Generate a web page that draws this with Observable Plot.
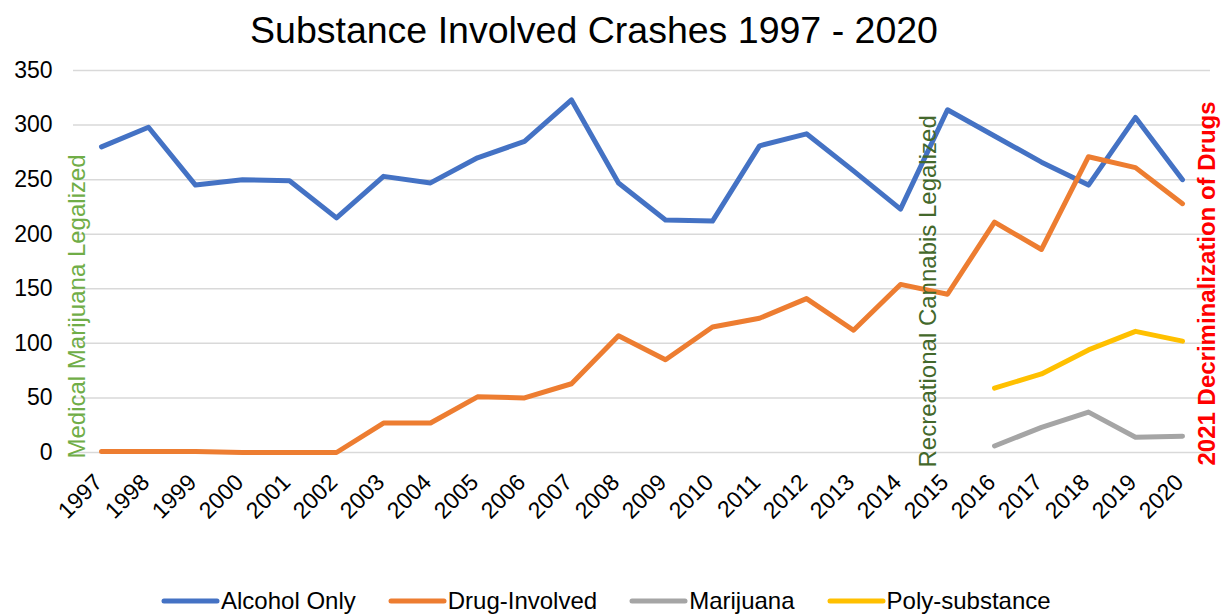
<!DOCTYPE html>
<html>
<head>
<meta charset="utf-8">
<script src="https://cdn.jsdelivr.net/npm/d3@7"></script>
<script src="https://cdn.jsdelivr.net/npm/@observablehq/plot@0.6"></script>
<style>
  html, body { margin: 0; padding: 0; background: #fff; }
  body { width: 1228px; height: 616px; position: relative; overflow: hidden; font-family: "Liberation Sans", Arial, sans-serif; }
  #title { position: absolute; left: 0; top: 7px; width: 1188px; text-align: center; font-size: 37.5px; color: #000; line-height: 46px; }
  #chart { position: absolute; left: 0; top: 50px; }
  #legend { position: absolute; left: 161px; top: 586px; display: flex; justify-content: flex-start; gap: 32px; font-size: 24px; color: #000; line-height: 30px; }
  .item { display: flex; align-items: center; gap: 1px; }
</style>
</head>
<body>
<div id="title">Substance Involved Crashes 1997 - 2020</div>
<div id="chart"></div>
<div id="legend"></div>
<script>
const years = ["1997","1998","1999","2000","2001","2002","2003","2004","2005","2006","2007","2008","2009","2010","2011","2012","2013","2014","2015","2016","2017","2018","2019","2020"];
const alcoholOnly = [280, 298, 245, 250, 249, 215, 253, 247, 270, 285, 323, 247, 213, 212, 281, 292, 258, 223, 314, 290, 266, 245, 307, 250];
const drugInvolved = [1, 1, 1, 0, 0, 0, 27, 27, 51, 50, 63, 107, 85, 115, 123, 141, 112, 154, 145, 211, 186, 271, 261, 228];
const recentYears = ["2016","2017","2018","2019","2020"];
const marijuana = [6, 23, 37, 14, 15];
const polySubstance = [59, 72, 94, 111, 102];
const yTicks = [0, 50, 100, 150, 200, 250, 300, 350];

const seriesNames = ["Alcohol Only", "Drug-Involved", "Marijuana", "Poly-substance"];
const seriesColors = ["#4472C4", "#ED7D31", "#A5A5A5", "#FFC000"];

const annotations = [
  {text: "Medical Marijuana Legalized", year: "1997", color: "#70AD47", weight: "normal", dx: -24.5, dy: 6},
  {text: "Recreational Cannabis Legalized", year: "2015", color: "#43682B", weight: "normal", dx: -19.5, dy: 15},
  {text: "2021 Decriminalization of Drugs", year: "2020", color: "#FF0000", weight: "bold", dx: 24.5, dy: 13}
];

const toRows = (xs, vs) => xs.map((x, i) => ({year: x, value: vs[i]}));
const rows = [
  toRows(years, alcoholOnly),
  toRows(years, drugInvolved),
  toRows(recentYears, marijuana),
  toRows(recentYears, polySubstance)
];

const chart = Plot.plot({
  width: 1228,
  height: 482,
  marginTop: 20,
  marginLeft: 73,
  marginRight: 18,
  marginBottom: 80,
  style: {fontFamily: "'Liberation Sans', Arial, sans-serif", background: "#fff", color: "#000"},
  x: {type: "point", domain: years, padding: 0.5},
  y: {domain: [0, 350]},
  marks: [
    Plot.gridY(yTicks, {stroke: "#D9D9D9", strokeOpacity: 1, strokeWidth: 1.5}),
    Plot.axisY(yTicks, {tickSize: 0, tickPadding: 21, fontSize: 23, label: null}),
    Plot.axisX({tickSize: 0, tickPadding: 26, tickRotate: -45, fontSize: 23, label: null, dx: -3}),
    ...rows.map((r, i) => Plot.lineY(r, {x: "year", y: "value", stroke: seriesColors[i], strokeWidth: 5, strokeLinejoin: "round", strokeLinecap: "round"})),
    ...annotations.map(a => Plot.text([a], {
      x: "year", y: () => 0, text: "text", rotate: -90, textAnchor: "start",
      fill: a.color, fontWeight: a.weight, fontSize: 24, dx: a.dx, dy: a.dy
    }))
  ]
});
document.getElementById("chart").appendChild(chart);

const legend = document.getElementById("legend");
seriesNames.forEach((name, i) => {
  const item = document.createElement("div");
  item.className = "item";
  item.innerHTML = `<svg width="59" height="10"><line x1="3" y1="5" x2="56" y2="5" stroke="${seriesColors[i]}" stroke-width="5" stroke-linecap="round"/></svg><span>${name}</span>`;
  legend.appendChild(item);
});
</script>
</body>
</html>
